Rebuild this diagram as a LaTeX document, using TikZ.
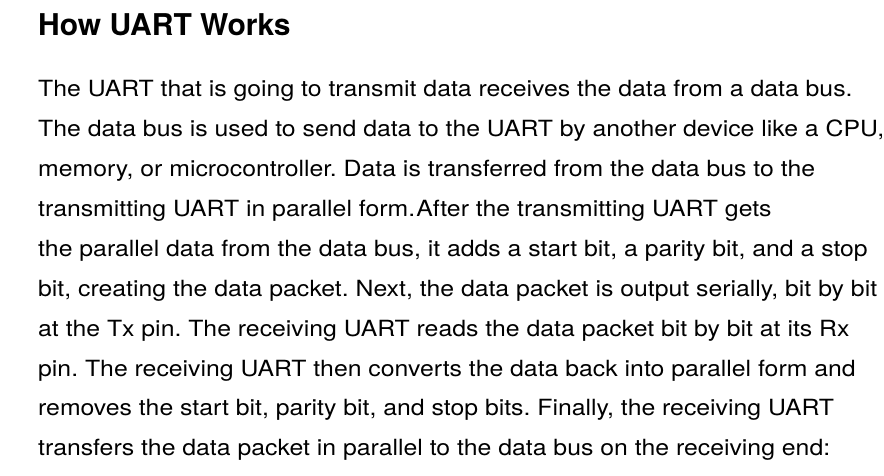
\documentclass[tikz,border=0pt]{standalone}
\usepackage{graphicx}
\usepackage{fontspec}
\setmainfont{TeX Gyre Heros}
\newcommand\wideline[1]{\scalebox{1.112}[1]{#1}}
\frenchspacing
\begin{document}
\begin{tikzpicture}[x=1pt,y=-1pt,
  body/.style={anchor=base west,inner sep=0pt,font=\fontsize{22.3}{26}\selectfont},
  title/.style={anchor=base west,inner sep=0pt,font=\fontsize{30}{36}\selectfont\bfseries}]
\fill[white] (0,0) rectangle (884,475);
\useasboundingbox (0,0) rectangle (884,475);
\clip (0,0) rectangle (884,475);
\node[title] (t) at (38,35) {How UART Works};
\node[body] (l1) at (38,96.7) {\wideline{The UART that is going to transmit data receives the data from a data bus.}};
\node[body] (l2) at (38,136.6) {\wideline{The data bus is used to send data to the UART by another device like a CPU,}};
\node[body] (l3) at (38,176.5) {\wideline{memory, or microcontroller. Data is transferred from the data bus to the}};
\node[body] (l4) at (38,216.4) {\wideline{transmitting UART in parallel form.\hspace{0.05em}After the transmitting UART gets}};
\node[body] (l5) at (38,256.3) {\wideline{the parallel data from the data bus, it adds a start bit, a parity bit, and a stop}};
\node[body] (l6) at (38,296.2) {\wideline{bit, creating the data packet. Next, the data packet is output serially, bit by bit}};
\node[body] (l7) at (38,336.1) {\wideline{at the Tx pin. The receiving UART reads the data packet bit by bit at its Rx}};
\node[body] (l8) at (38,376.0) {\wideline{pin. The receiving UART then converts the data back into parallel form and}};
\node[body] (l9) at (38,415.9) {\wideline{removes the start bit, parity bit, and stop bits. Finally, the receiving UART}};
\node[body] (l10) at (38,455.8) {\wideline{transfers the data packet in parallel to the data bus on the receiving end:}};
\end{tikzpicture}
\end{document}
